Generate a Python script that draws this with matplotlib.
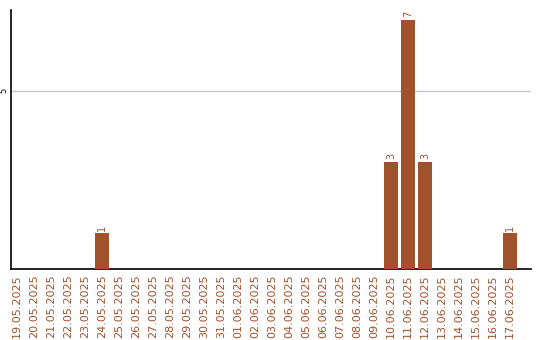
import matplotlib
matplotlib.use("Agg")
import matplotlib.pyplot as plt

dates = ["19.05.2025", "20.05.2025", "21.05.2025", "22.05.2025", "23.05.2025",
         "24.05.2025", "25.05.2025", "26.05.2025", "27.05.2025", "28.05.2025",
         "29.05.2025", "30.05.2025", "31.05.2025", "01.06.2025", "02.06.2025",
         "03.06.2025", "04.06.2025", "05.06.2025", "06.06.2025", "07.06.2025",
         "08.06.2025", "09.06.2025", "10.06.2025", "11.06.2025", "12.06.2025",
         "13.06.2025", "14.06.2025", "15.06.2025", "16.06.2025", "17.06.2025"]
counts = [0, 0, 0, 0, 0, 1, 0, 0, 0, 0, 0, 0, 0, 0, 0,
          0, 0, 0, 0, 0, 0, 0, 3, 7, 3, 0, 0, 0, 0, 1]

BROWN = "#A0522D"

fig = plt.figure(figsize=(5.4, 3.4), dpi=100)
ax = fig.add_axes([11 / 540, 71 / 340, 520 / 540, 259 / 340])

x = list(range(len(dates)))
ax.bar(x, counts, width=0.82, color=BROWN, zorder=3)

for xi, v in zip(x, counts):
    if v > 0:
        ax.text(xi, v + 0.08, str(v), rotation=90, ha="center", va="bottom",
                color=BROWN, fontsize=7)

ax.set_xlim(-0.35, 30.24)
ax.set_ylim(0, 7.27)
ax.set_yticks([5])
ax.set_yticklabels(["5"], rotation=90, va="center", fontsize=6)
ax.yaxis.grid(True, color="#c8c8c8", linewidth=1, zorder=0)
ax.tick_params(axis="y", length=0, pad=2)

ax.set_xticks(x)
ax.set_xticklabels(dates, rotation=90, fontsize=8, color=BROWN)
ax.tick_params(axis="x", length=0, pad=4)

for s in ("top", "right"):
    ax.spines[s].set_visible(False)
ax.spines["left"].set_linewidth(1.2)
ax.spines["bottom"].set_linewidth(1.2)

fig.savefig("out.png", dpi=100)
